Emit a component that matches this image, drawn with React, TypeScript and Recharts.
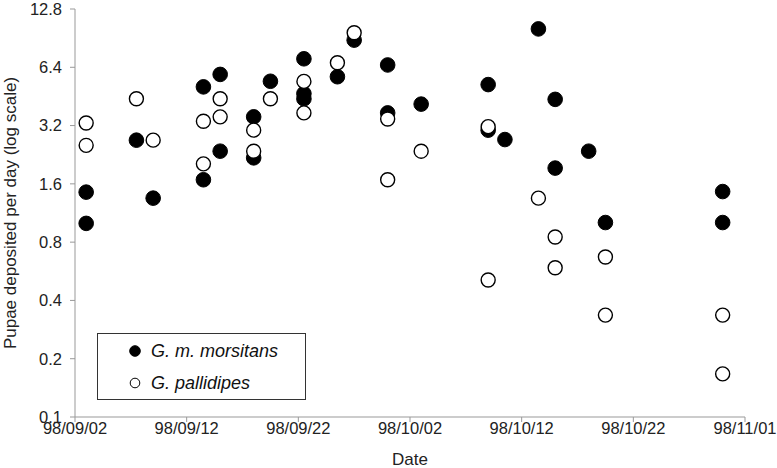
// App.tsx
import React from 'react';
import { ScatterChart, Scatter, XAxis, YAxis } from 'recharts';

// days after 98/09/02 and pupae per day
const morsitansDays = [1, 1, 5.5, 7, 11.5, 11.5, 13, 13, 16, 16, 17.5, 20.5, 20.5, 20.5, 23.5, 25, 28, 28, 31, 37, 37, 38.5, 41.5, 43, 43, 46, 47.5, 58, 58];
const morsitansValues = [1.45, 1.0, 2.69, 1.35, 5.07, 1.68, 5.88, 2.36, 3.55, 2.18, 5.42, 7.08, 4.68, 4.4, 5.72, 8.84, 6.58, 3.72, 4.13, 5.21, 3.03, 2.71, 10.1, 4.37, 1.93, 2.36, 1.01, 1.46, 1.01];

const pallidipesDays = [1, 1, 5.5, 7, 11.5, 11.5, 13, 13, 16, 16, 17.5, 20.5, 20.5, 23.5, 25, 28, 28, 31, 37, 37, 41.5, 43, 43, 47.5, 47.5, 58, 58];
const pallidipesValues = [3.3, 2.53, 4.4, 2.69, 3.37, 2.03, 4.4, 3.55, 3.03, 2.36, 4.4, 5.41, 3.72, 6.75, 9.65, 3.46, 1.68, 2.36, 3.16, 0.51, 1.35, 0.85, 0.59, 0.67, 0.336, 0.336, 0.167];

const xTicks = [0, 10, 20, 30, 40, 50, 60];
const xTickLabels = ['98/09/02', '98/09/12', '98/09/22', '98/10/02', '98/10/12', '98/10/22', '98/11/01'];
const yTicks = [0.1, 0.2, 0.4, 0.8, 1.6, 3.2, 6.4, 12.8];

const seriesNames = ['G. m. morsitans', 'G. pallidipes'];

const FONT = '"Liberation Sans", Arial, sans-serif';

const toPoints = (days: number[], values: number[]) =>
  days.map((d, i) => ({ day: d, value: values[i] }));

const morsitansData = toPoints(morsitansDays, morsitansValues);
const pallidipesData = toPoints(pallidipesDays, pallidipesValues);

const FilledDot = (props: any) => (
  <circle cx={props.cx} cy={props.cy} r={7.3} fill="#000" stroke="#000" strokeWidth={1} />
);

const OpenDot = (props: any) => (
  <circle cx={props.cx} cy={props.cy} r={7} fill="#fff" stroke="#000" strokeWidth={1.4} />
);

const YTitle = (props: any) => {
  const vb = props.viewBox || { y: 9, height: 408 };
  const cx = 10;
  const cy = vb.y + vb.height / 2;
  return (
    <text
      x={cx}
      y={cy}
      transform={`rotate(-90, ${cx}, ${cy})`}
      textAnchor="middle"
      dominantBaseline="central"
      fontSize={17}
      fontFamily={FONT}
      fill="#222"
    >
      Pupae deposited per day (log scale)
    </text>
  );
};

const XTitle = (props: any) => {
  const vb = props.viewBox || { x: 75, y: 417, width: 670 };
  return (
    <text x={vb.x + vb.width / 2} y={vb.y + 48} textAnchor="middle" fontSize={17} fontFamily={FONT} fill="#222">
      Date
    </text>
  );
};

// legend drawn as an overlay so it doesn't take room from the plot
const LegendBox = () => (
  <div
    style={{
      position: 'absolute',
      left: 97,
      top: 333,
      boxSizing: 'border-box',
      width: 209,
      height: 67,
      border: '1px solid #333',
      background: '#fff',
      paddingTop: 1,
      fontFamily: FONT,
      fontSize: 18,
      fontStyle: 'italic',
      color: '#111',
    }}
  >
    {seriesNames.map((name, i) => (
      <div key={name} style={{ height: 32, display: 'flex', alignItems: 'center', paddingLeft: 31 }}>
        <svg width={12} height={12} style={{ marginRight: 10 }}>
          <circle cx={6} cy={6} r={i === 0 ? 5.3 : 4.8} fill={i === 0 ? '#000' : '#fff'} stroke="#000" strokeWidth={1} />
        </svg>
        <span>{name}</span>
      </div>
    ))}
  </div>
);

const tickStyle = { fontSize: 16.5, fontFamily: FONT, fill: '#222' };

export default function App() {
  return (
    <div style={{ position: 'absolute', left: 0, top: 0, width: 777, height: 468, background: '#fff' }}>
      <ScatterChart width={777} height={468} margin={{ top: 9, right: 32, bottom: 0, left: 0 }}>
        <XAxis
          type="number"
          dataKey="day"
          domain={[0, 60]}
          ticks={xTicks}
          tickFormatter={(v: number) => xTickLabels[xTicks.indexOf(v)]}
          height={51}
          stroke="#999"
          tickSize={5}
          tickMargin={0}
          tick={tickStyle}
          interval={0}
          label={{ content: XTitle }}
        />
        <YAxis
          type="number"
          dataKey="value"
          scale="log"
          domain={[0.1, 12.8]}
          ticks={yTicks}
          allowDataOverflow
          width={75}
          stroke="#999"
          tickSize={5}
          tickMargin={8}
          tick={tickStyle}
          interval={0}
          label={{ content: YTitle }}
        />
        <Scatter name={seriesNames[0]} data={morsitansData} shape={FilledDot} isAnimationActive={false} />
        <Scatter name={seriesNames[1]} data={pallidipesData} shape={OpenDot} isAnimationActive={false} />
      </ScatterChart>
      <LegendBox />
    </div>
  );
}
